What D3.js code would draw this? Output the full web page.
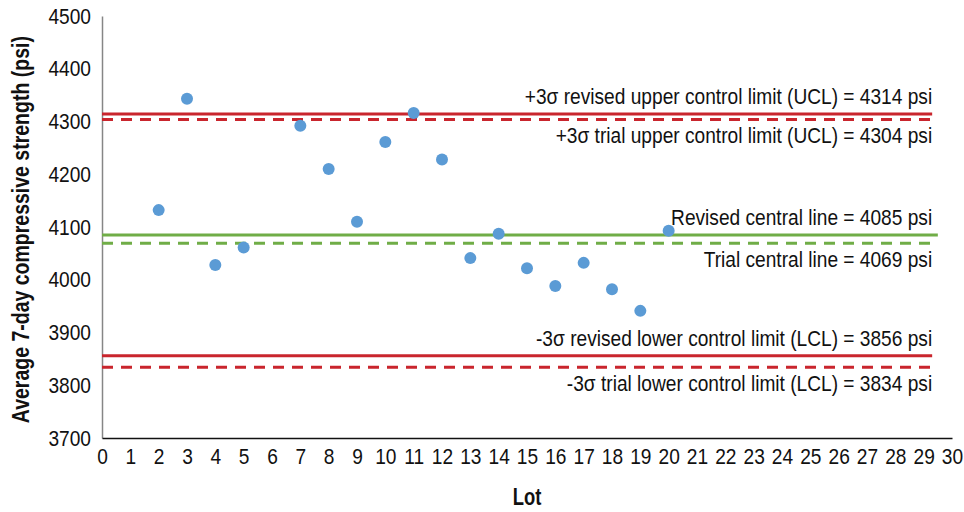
<!DOCTYPE html>
<html>
<head>
<meta charset="utf-8">
<script src="https://cdn.jsdelivr.net/npm/d3@7"></script>
<style>
  html, body { margin: 0; padding: 0; background: #fff; }
  svg { display: block; font-family: "Liberation Sans", Arial, sans-serif; }
</style>
</head>
<body>
<svg id="chart" width="964" height="512"></svg>
<script>
// Lot numbers and their average 7-day compressive strength (psi)
const lots = [2, 3, 4, 5, 7, 8, 9, 10, 11, 12, 13, 14, 15, 16, 17, 18, 19, 20];
const strengths = [4132, 4343, 4028, 4061, 4292, 4210, 4110, 4261, 4316, 4228, 4041, 4087, 4022, 3988, 4032, 3982, 3941, 4093];

// Control chart reference lines
const limitNames = [
  "+3σ revised upper control limit (UCL) = 4314 psi",
  "+3σ trial upper control limit (UCL) = 4304 psi",
  "Revised central line = 4085 psi",
  "Trial central line = 4069 psi",
  "-3σ revised lower control limit (LCL) = 3856 psi",
  "-3σ trial lower control limit (LCL) = 3834 psi"
];
const limitValues = [4314, 4304, 4085, 4069, 3856, 3834];
const limitEnds = [29.3, 29.3, 29.5, 29.5, 29.3, 29.3];
const limitKinds = ["limit", "limit", "center", "center", "limit", "limit"];
const limitDashed = [false, true, false, true, false, true];
const labelAbove = [true, false, true, false, true, false];

// Axis ticks
const xTicks = d3.range(0, 31, 1);
const yTicks = [3700, 3800, 3900, 4000, 4100, 4200, 4300, 4400, 4500];

const svg = d3.select("#chart");
const margin = { left: 102, right: 12, top: 16, bottom: 74 };
const W = 964, H = 512;
const narrow = 0.87; // horizontal squeeze for a condensed look

const x = d3.scaleLinear().domain([0, 30]).range([margin.left, W - margin.right]);
const y = d3.scaleLinear().domain([3700, 4500]).range([H - margin.bottom, margin.top]);

const colors = { limit: "#c9252d", center: "#70ad47", point: "#5b9bd5", text: "#111" };

// Y axis
const yAxis = svg.append("g")
  .attr("transform", `translate(${x(0)},0)`)
  .call(d3.axisLeft(y).tickValues(yTicks).tickSize(0).tickPadding(10).tickFormat(d3.format("d")));
yAxis.select(".domain").attr("stroke", "#868686").attr("stroke-width", 1.5);
yAxis.selectAll(".tick text")
  .attr("font-size", 22).attr("fill", colors.text).attr("font-family", null)
  .attr("x", 0)
  .attr("transform", `translate(-11,0) scale(${narrow},1)`);

// X axis
const xAxis = svg.append("g")
  .attr("transform", `translate(0,${y(3700)})`)
  .call(d3.axisBottom(x).tickValues(xTicks).tickSize(0).tickPadding(10).tickFormat(d3.format("d")));
xAxis.select(".domain").attr("stroke", "#111").attr("stroke-width", 1.5);
xAxis.selectAll(".tick text")
  .attr("font-size", 22).attr("fill", colors.text).attr("font-family", null)
  .attr("transform", `scale(${narrow},1)`);

// Reference lines
const limits = limitValues.map((v, i) => ({
  v, name: limitNames[i], end: limitEnds[i], kind: limitKinds[i], dashed: limitDashed[i], above: labelAbove[i]
}));

svg.append("g").selectAll("line").data(limits).join("line")
  .attr("x1", x(0))
  .attr("x2", d => x(d.end))
  .attr("y1", d => y(d.v))
  .attr("y2", d => y(d.v))
  .attr("stroke", d => colors[d.kind])
  .attr("stroke-width", 3)
  .attr("stroke-dasharray", d => d.dashed ? "11,8" : null);

svg.append("g").selectAll("text").data(limits).join("text")
  .attr("transform", d => `translate(${x(29.3)},${y(d.v) + (d.above ? -10 : 24)}) scale(${narrow},1)`)
  .attr("text-anchor", "end")
  .attr("font-size", 22)
  .attr("fill", colors.text)
  .text(d => d.name);

// Data points
svg.append("g").selectAll("circle").data(lots.map((l, i) => ({ l, s: strengths[i] }))).join("circle")
  .attr("cx", d => x(d.l))
  .attr("cy", d => y(d.s))
  .attr("r", 6)
  .attr("fill", colors.point);

// Axis titles
svg.append("text")
  .attr("transform", `translate(${x(15)},505) scale(0.8,1)`)
  .attr("text-anchor", "middle")
  .attr("font-size", 23)
  .attr("font-weight", "bold")
  .attr("fill", colors.text)
  .text("Lot");

svg.append("text")
  .attr("transform", `translate(29,${y(4095)}) rotate(-90) scale(0.83,1)`)
  .attr("text-anchor", "middle")
  .attr("font-size", 23.5)
  .attr("font-weight", "bold")
  .attr("fill", colors.text)
  .text("Average 7-day compressive strength (psi)");
</script>
</body>
</html>
